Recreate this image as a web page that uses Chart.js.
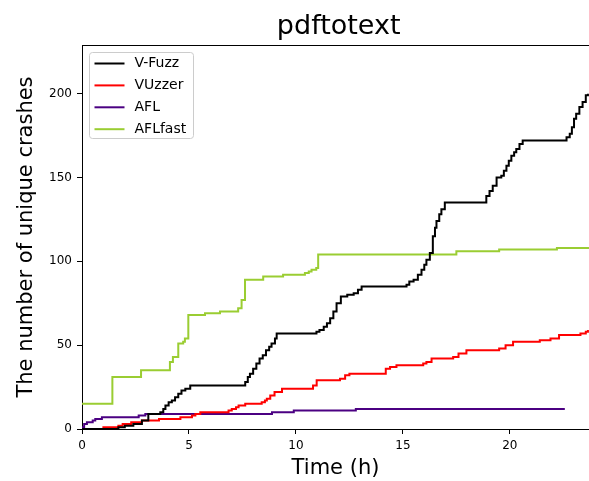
<!DOCTYPE html>
<html>
<head>
<meta charset="utf-8">
<script src="https://cdn.jsdelivr.net/npm/chart.js@4"></script>
<style>
  body { margin: 0; background: #fff; }
</style>
</head>
<body>
<canvas id="chart" width="589" height="481"></canvas>
<script>
// [hours, unique crashes]
const vfuzz = [
  [0, 0], [1.7, 1], [2.0, 2], [2.4, 3], [2.8, 5], [3.1, 9], [3.66, 10], [3.8, 12], [3.9, 14], [4.05, 16],
  [4.2, 17], [4.35, 19], [4.5, 21], [4.65, 23], [4.83, 24], [5.06, 26],
  [7.63, 28], [7.75, 31], [7.85, 33], [8.0, 36], [8.15, 39], [8.3, 42], [8.45, 44], [8.6, 47], [8.75, 49],
  [8.86, 51], [9.02, 54], [9.1, 57],
  [10.96, 58], [11.1, 59], [11.3, 61], [11.45, 63], [11.6, 66], [11.75, 70], [11.9, 75], [12.1, 79],
  [12.4, 80], [12.7, 81], [12.9, 83], [13.07, 85],
  [15.17, 86], [15.3, 88], [15.5, 89], [15.7, 92], [15.87, 95], [16.0, 98], [16.1, 101], [16.26, 105],
  [16.4, 115], [16.5, 120], [16.57, 124], [16.7, 128], [16.8, 131], [16.96, 135],
  [18.9, 139], [19.05, 142], [19.2, 145], [19.38, 150], [19.6, 151], [19.72, 154], [19.84, 157],
  [19.95, 160], [20.07, 163], [20.2, 165], [20.3, 167], [20.45, 170], [20.6, 172],
  [22.65, 174], [22.8, 176], [22.9, 180], [23.0, 185], [23.1, 188], [23.25, 192], [23.4, 195],
  [23.55, 199], [23.65, 200]
];
const vuzzer = [
  [0, 0], [1.0, 1], [1.7, 2], [1.9, 3], [2.3, 4], [2.8, 5], [3.6, 6], [4.6, 7], [5.14, 8], [5.3, 9],
  [5.53, 10], [6.85, 11], [7.0, 12], [7.2, 13], [7.32, 14], [7.63, 15], [8.4, 16], [8.55, 17], [8.64, 18],
  [8.8, 20], [9.0, 22], [9.35, 24], [10.8, 26], [10.97, 29], [12.06, 30], [12.3, 32], [12.5, 33],
  [14.2, 36], [14.4, 37], [14.7, 38], [15.95, 39], [16.1, 40], [16.34, 42], [17.35, 43], [17.6, 45],
  [17.97, 47], [19.5, 48], [19.8, 50], [20.15, 52], [21.4, 53], [21.9, 54], [22.3, 56], [23.3, 57],
  [23.55, 58], [23.65, 59]
];
const afl = [
  [0, 1], [0.1, 3], [0.23, 4], [0.5, 5], [0.62, 6], [0.93, 7], [2.65, 8], [2.96, 9], [8.88, 10],
  [9.9, 11], [12.8, 12], [22.57, 12]
];
const aflfast = [
  [0, 15], [1.42, 31], [2.76, 35], [4.11, 40], [4.25, 43], [4.5, 51], [4.73, 52], [4.81, 54], [4.97, 68],
  [5.75, 69], [6.45, 70], [7.3, 72], [7.46, 77], [7.62, 89], [8.47, 91], [9.4, 92], [10.42, 93],
  [10.6, 94], [10.73, 95], [10.95, 96], [11.04, 104], [17.5, 106], [19.5, 107], [22.2, 108], [23.7, 108]
];

const seriesNames = ['V-Fuzz', 'VUzzer', 'AFL', 'AFLfast'];
const seriesColors = ['#000000', '#ff0000', '#4b0082', '#9acd32'];
const seriesData = [vfuzz, vuzzer, afl, aflfast];

const xTicks = [0, 5, 10, 15, 20];
const yTicks = [0, 50, 100, 150, 200];
const FONT = '"DejaVu Sans", sans-serif';

// matplotlib style frame, title and legend box
const decor = {
  id: 'decor',
  afterDraw(chart) {
    const ctx = chart.ctx;
    const area = chart.chartArea;
    ctx.save();
    // top spine
    ctx.strokeStyle = '#000';
    ctx.lineWidth = 1;
    ctx.beginPath();
    ctx.moveTo(area.left, area.top + 0.5);
    ctx.lineTo(area.right, area.top + 0.5);
    ctx.stroke();

    // title, centred on the full 0-24 h axis
    ctx.fillStyle = '#000';
    ctx.font = '27px ' + FONT;
    ctx.textAlign = 'center';
    ctx.textBaseline = 'alphabetic';
    ctx.fillText('pdftotext', chart.scales.x.getPixelForValue(12), 34);

    // legend
    const bx = area.left + 7.5, by = area.top + 7.5, bw = 104, bh = 86;
    ctx.beginPath();
    ctx.roundRect(bx, by, bw, bh, 3);
    ctx.fillStyle = 'rgba(255,255,255,0.8)';
    ctx.fill();
    ctx.strokeStyle = '#cccccc';
    ctx.stroke();
    ctx.font = '14px ' + FONT;
    ctx.textAlign = 'left';
    ctx.textBaseline = 'middle';
    chart.data.datasets.forEach((ds, i) => {
      const y = by + 11 + i * 21.9;
      ctx.strokeStyle = ds.borderColor;
      ctx.lineWidth = 2;
      ctx.beginPath();
      ctx.moveTo(bx + 5, y);
      ctx.lineTo(bx + 35, y);
      ctx.stroke();
      ctx.fillStyle = '#000';
      ctx.fillText(ds.label, bx + 45, y);
    });
    ctx.restore();
  }
};

const ctx = document.getElementById('chart').getContext('2d');
const chart = new Chart(ctx, {
  type: 'line',
  data: {
    datasets: seriesNames.map((name, i) => ({
      label: name,
      data: seriesData[i].map(p => ({ x: p[0], y: p[1] })),
      borderColor: seriesColors[i],
      backgroundColor: seriesColors[i],
      borderWidth: 2,
      pointRadius: 0,
      stepped: true,
      fill: false
    }))
  },
  options: {
    responsive: false,
    animation: false,
    layout: { padding: { top: 45, right: 0, bottom: 0, left: 0 } },
    plugins: {
      legend: { display: false },
      tooltip: { enabled: false },
      title: { display: false }
    },
    scales: {
      x: {
        type: 'linear',
        min: 0,
        max: 23.7,
        afterFit: (scale) => { scale.height = 52; },
        afterBuildTicks: (scale) => { scale.ticks = xTicks.map(v => ({ value: v })); },
        ticks: { color: '#000', font: { family: FONT, size: 12 }, padding: 5, maxRotation: 0 },
        grid: { drawOnChartArea: false, tickLength: 5, tickColor: '#000' },
        border: { display: true, color: '#000', width: 1 },
        title: { display: true, text: 'Time (h)', color: '#000', font: { family: FONT, size: 21 }, padding: { top: 0, bottom: 0 } }
      },
      y: {
        min: 0,
        max: 229,
        afterFit: (scale) => { scale.width = 82; },
        afterBuildTicks: (scale) => { scale.ticks = yTicks.map(v => ({ value: v })); },
        ticks: { color: '#000', font: { family: FONT, size: 12 }, padding: 5 },
        grid: { drawOnChartArea: false, tickLength: 5, tickColor: '#000' },
        border: { display: true, color: '#000', width: 1 },
        title: { display: true, text: 'The number of unique crashes', color: '#000', font: { family: FONT, size: 21 }, padding: { top: 14, bottom: 0 } }
      }
    }
  },
  plugins: [decor]
});
</script>
</body>
</html>
